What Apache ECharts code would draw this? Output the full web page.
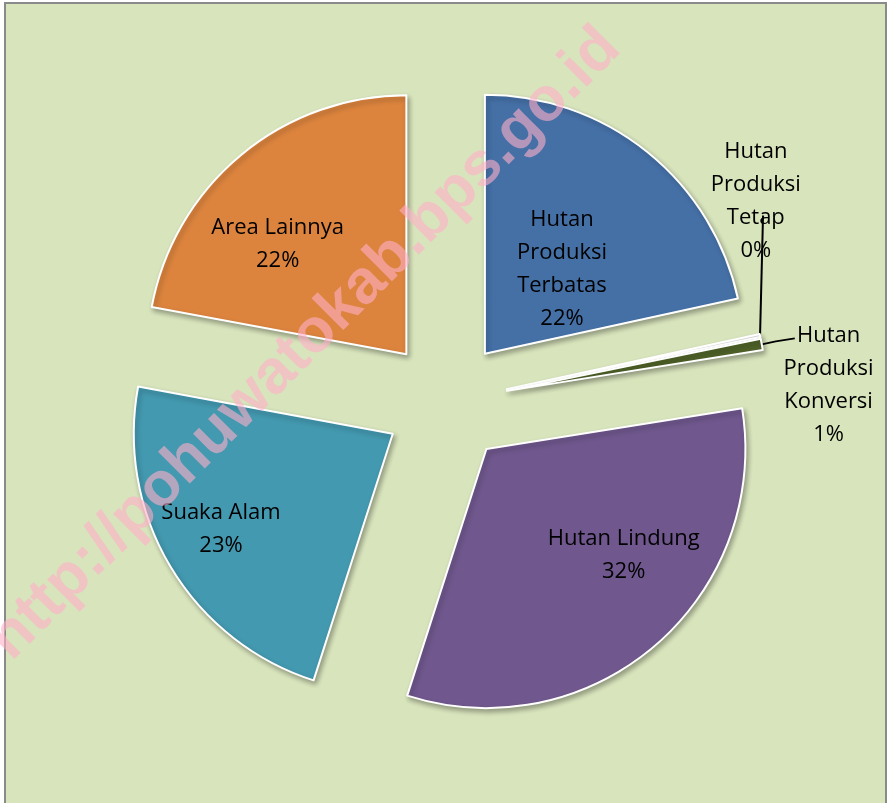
<!DOCTYPE html>
<html>
<head>
<meta charset="utf-8">
<script src="https://cdn.jsdelivr.net/npm/echarts@6/dist/echarts.min.js"></script>
<style>
  html, body { margin: 0; padding: 0; background: #fff; }
  #chart { width: 890px; height: 803px; }
</style>
</head>
<body>
<div id="chart"></div>
<script>
// share of forest area (%)
const names = ["Hutan\nProduksi\nTerbatas", "Hutan\nProduksi\nTetap", "Hutan\nProduksi\nKonversi", "Hutan Lindung", "Suaka Alam", "Area Lainnya"];
const values = [21.6, 0.2, 0.7, 32.5, 23.0, 22.1];
const pctLabels = ["22%", "0%", "1%", "32%", "23%", "22%"];
const colors = ["#4570a6", "#e8e8e8", "#4f6228", "#70588e", "#4399b0", "#dc843e"];

// nudges for the labels (Excel placed them by "best fit")
const labelShift = [[-6, 19], [-75, -132], [-4, 43], [51, 6], [-58, 28], [-44, -8]];
// leader line bends, relative to where the line leaves the slice
const leaderBends = { 1: [[1, -40], [3, -120]], 2: [[14, -3], [33, -6]] };

var myChart = echarts.init(document.getElementById("chart"));

var option = {
  backgroundColor: "#ffffff",
  animation: false,
  graphic: [
    {
      type: "rect",
      z: -10,
      shape: { x: 5, y: 3, width: 881, height: 810 },
      style: { fill: "#d8e4bc", stroke: "#8a8a8a", lineWidth: 2 },
    },
    {
      type: "text",
      z: 100,
      x: 305,
      y: 344,
      rotation: Math.PI / 4,
      style: {
        text: "http://pohuwatokab.bps.go.id",
        font: "bold 62px 'Liberation Sans', Arial",
        fill: "rgba(255, 175, 200, 0.6)",
        align: "center",
        verticalAlign: "middle",
      },
    },
  ],
  series: [
    {
      type: "pie",
      center: [446, 402],
      radius: 259,
      startAngle: 90,
      clockwise: true,
      selectedMode: "multiple",
      selectedOffset: 62,
      avoidLabelOverlap: false,
      itemStyle: {
        borderColor: "#ffffff",
        borderWidth: 2,
        shadowBlur: 5,
        shadowOffsetX: 2,
        shadowOffsetY: 3,
        shadowColor: "rgba(0,0,0,0.3)",
      },
      label: {
        show: true,
        position: "inside",
        color: "#000",
        fontFamily: "'Open Sans', 'Noto Sans', sans-serif",
        fontSize: 22,
        lineHeight: 33,
        align: "center",
        formatter: (p) => p.name + "\n" + pctLabels[p.dataIndex],
      },
      labelLine: {
        show: false,
      },
      labelLayout: function (params) {
        const i = params.dataIndex;
        const out = { dx: labelShift[i][0], dy: labelShift[i][1] };
        const bends = leaderBends[i];
        if (bends && params.labelLinePoints) {
          const p0 = params.labelLinePoints[0];
          out.labelLinePoints = [
            [p0[0], p0[1]],
            [p0[0] + bends[0][0], p0[1] + bends[0][1]],
            [p0[0] + bends[1][0], p0[1] + bends[1][1]],
          ];
        }
        return out;
      },
      data: values.map((v, i) => {
        const item = {
          name: names[i],
          value: v,
          selected: true,
          itemStyle: { color: colors[i] },
        };
        if (i === 1 || i === 2) {
          item.label = {
            position: "outside",
            formatter: (p) =>
              (p.name + "\n" + pctLabels[p.dataIndex])
                .split("\n")
                .map((s) => "{c|" + s + "}")
                .join("\n"),
            rich: {
              c: {
                width: 92,
                align: "center",
                color: "#000",
                fontFamily: "'Open Sans', 'Noto Sans', sans-serif",
                fontSize: 22,
                lineHeight: 33,
              },
            },
          };
          item.labelLine = {
            show: true,
            length: 10,
            length2: 10,
            lineStyle: { color: "#000", width: 2 },
          };
        }
        return item;
      }),
    },
  ],
};

myChart.setOption(option);
</script>
</body>
</html>
